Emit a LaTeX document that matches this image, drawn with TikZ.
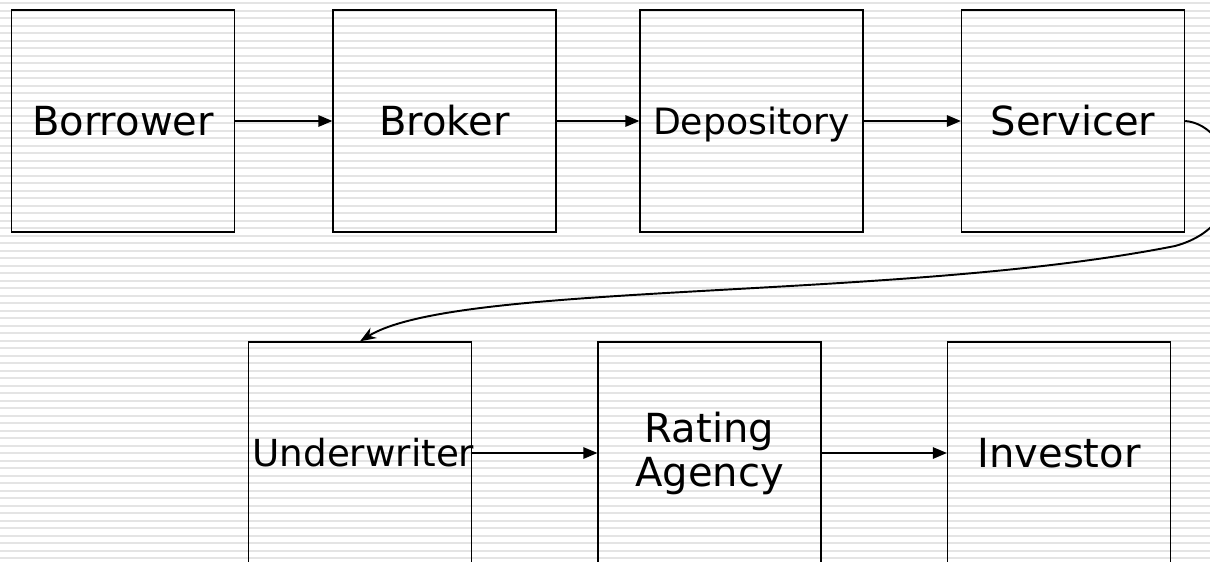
\documentclass[tikz,border=0pt]{standalone}
\usepackage{fontspec}
\setmainfont{DejaVu Sans}
\usetikzlibrary{arrows.meta}
\definecolor{stripegray}{RGB}{228,228,228}

\begin{document}
\begin{tikzpicture}[line width=0.75pt, >={Triangle[length=0.28cm,width=0.23cm]}]
          \tikzstyle{every node}=[font=\fontsize{22.8}{25}\selectfont]
          \tikzstyle{party}=[draw, inner sep=0pt, minimum height=4.44cm, text width=4.3cm, align=center]
          \useasboundingbox (0,0) rectangle (24.2,11.22);
          % ruled background
          \foreach \y in {0,...,74}
            \fill[stripegray] (0,11.17-0.15*\y) rectangle (24.2,11.13-0.15*\y);

            \node[party, minimum width=4.46cm] (bw) at (2.46, 8.8) {Borrower};
            \node[party, minimum width=4.46cm] (bk) at (8.89, 8.8) {Broker};
            \node[party, minimum width=4.46cm, text depth=0pt, font=\fontsize{20.6}{24}\selectfont] (dp) at (15.03, 8.8) {Depository};
            \node[party, minimum width=4.46cm] (sv) at (21.46, 8.8) {Servicer};
            \node[party, minimum width=4.46cm, font=\fontsize{21.2}{24}\selectfont] (uw) at (7.2, 2.16) {Underwriter};
            \node[party, minimum width=4.46cm] (ra) at (14.19, 2.16) {Rating\\Agency};
            \node[party, minimum width=4.46cm] (iv) at (21.18, 2.16) {Investor};

            \draw[->, line width=0.85pt] (bw) edge (bk);
            \draw[->, line width=0.85pt] (bk) edge (dp);
            \draw[->, line width=0.85pt] (dp) edge (sv);
            \draw[->, line width=0.85pt] (uw) edge (ra);
            \draw[->, line width=0.85pt] (ra) edge (iv);
            %\draw[->] (sv) to[out=0,in=90] (uw);
            \draw[-{Stealth[length=0.32cm,width=0.24cm]}, line width=1.1pt]
              (sv.east) .. controls (24.7, 8.72) and (25.2, 6.76) .. (23.5, 6.3)
              .. controls (17.96, 5.2) and (9.14, 5.6) .. (uw.north);
        \end{tikzpicture}
\end{document}
